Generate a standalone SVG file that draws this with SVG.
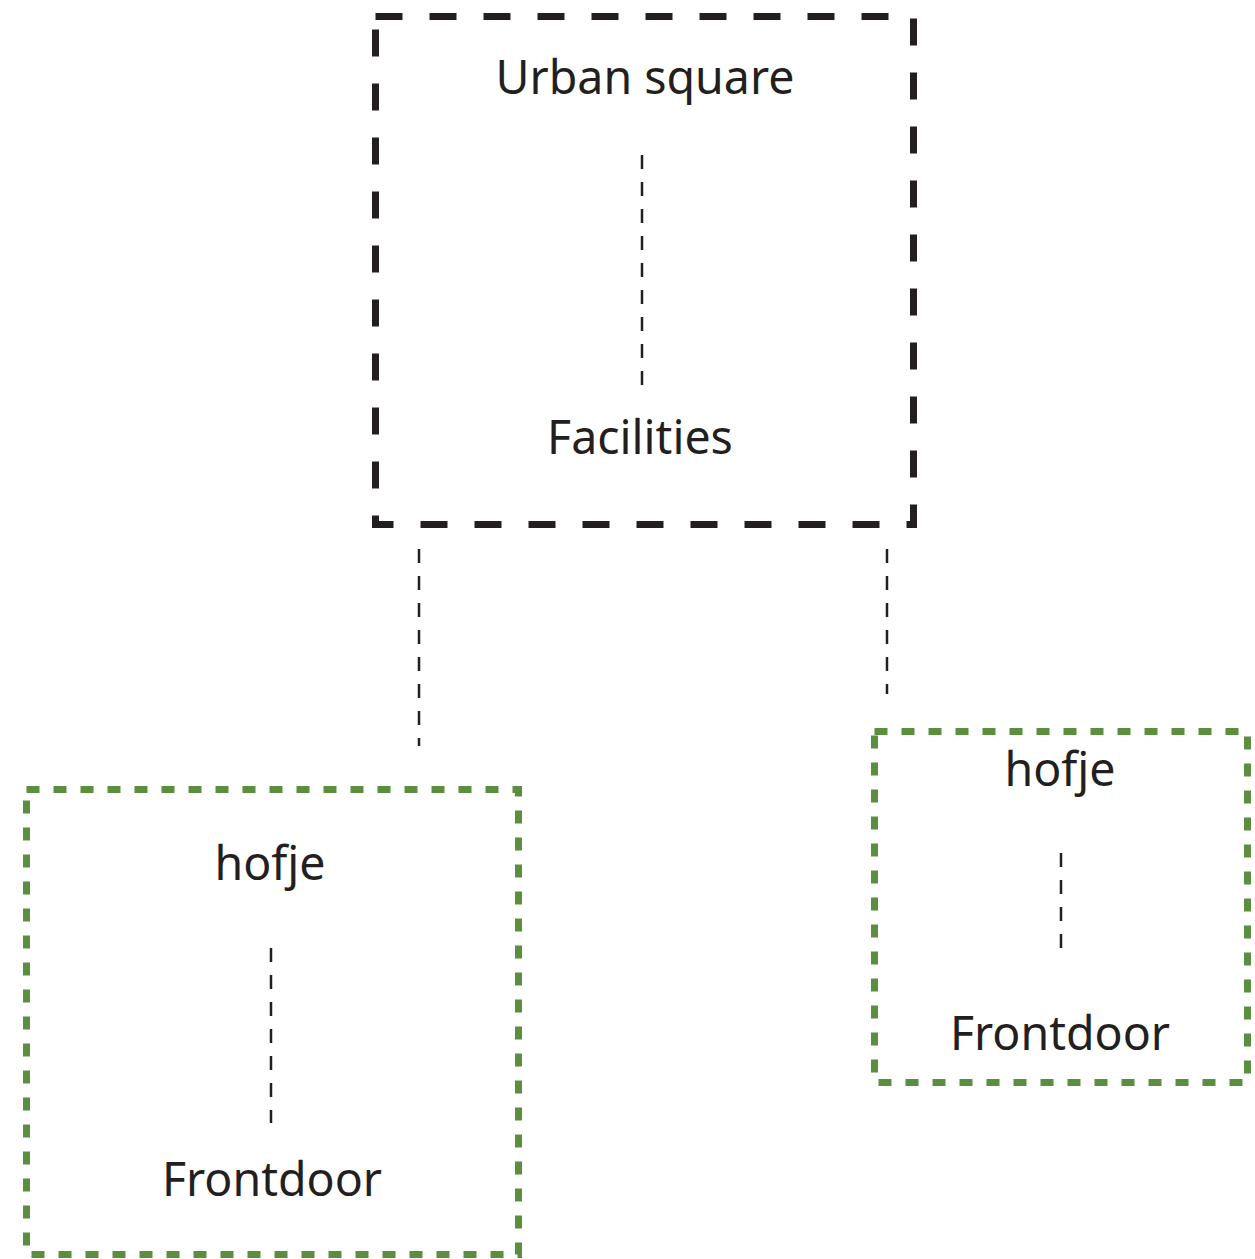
<svg xmlns="http://www.w3.org/2000/svg" width="1255" height="1259" viewBox="0 0 1255 1259">
<style>
.lbl{font-family:"Noto Sans","Open Sans",sans-serif;font-size:46.5px;fill:#231f20;text-anchor:middle}
.blk{fill:none;stroke:#231f20;stroke-width:7;stroke-dasharray:27 27}
.grn{fill:none;stroke:#5b8f3f;stroke-width:7;stroke-dasharray:13 14}
.con{fill:none;stroke:#231f20;stroke-width:2.5;stroke-dasharray:14 13}
</style>
<rect width="1255" height="1259" fill="#fff"/>
<g id="connectors">
<line class="con" x1="419" y1="549" x2="419" y2="746"/>
<line class="con" x1="887" y1="549" x2="887" y2="694"/>
</g>
<g id="urban-square">
<rect class="blk" x="375.5" y="16.5" width="538" height="508"/>
<text class="lbl" x="645" y="94">Urban square</text>
<line class="con" x1="642" y1="155" x2="642" y2="385"/>
<text class="lbl" x="640" y="454">Facilities</text>
</g>
<g id="hofje-left">
<rect class="grn" x="26.5" y="789.5" width="492" height="465"/>
<text class="lbl" x="270" y="880">hofje</text>
<line class="con" x1="271" y1="948" x2="271" y2="1123"/>
<text class="lbl" x="272" y="1196">Frontdoor</text>
</g>
<g id="hofje-right">
<rect class="grn" x="874.5" y="731.5" width="373" height="351"/>
<text class="lbl" x="1060" y="786">hofje</text>
<line class="con" x1="1061" y1="853" x2="1061" y2="960" stroke-dasharray="14 17"/>
<text class="lbl" x="1060" y="1050">Frontdoor</text>
</g>
</svg>
